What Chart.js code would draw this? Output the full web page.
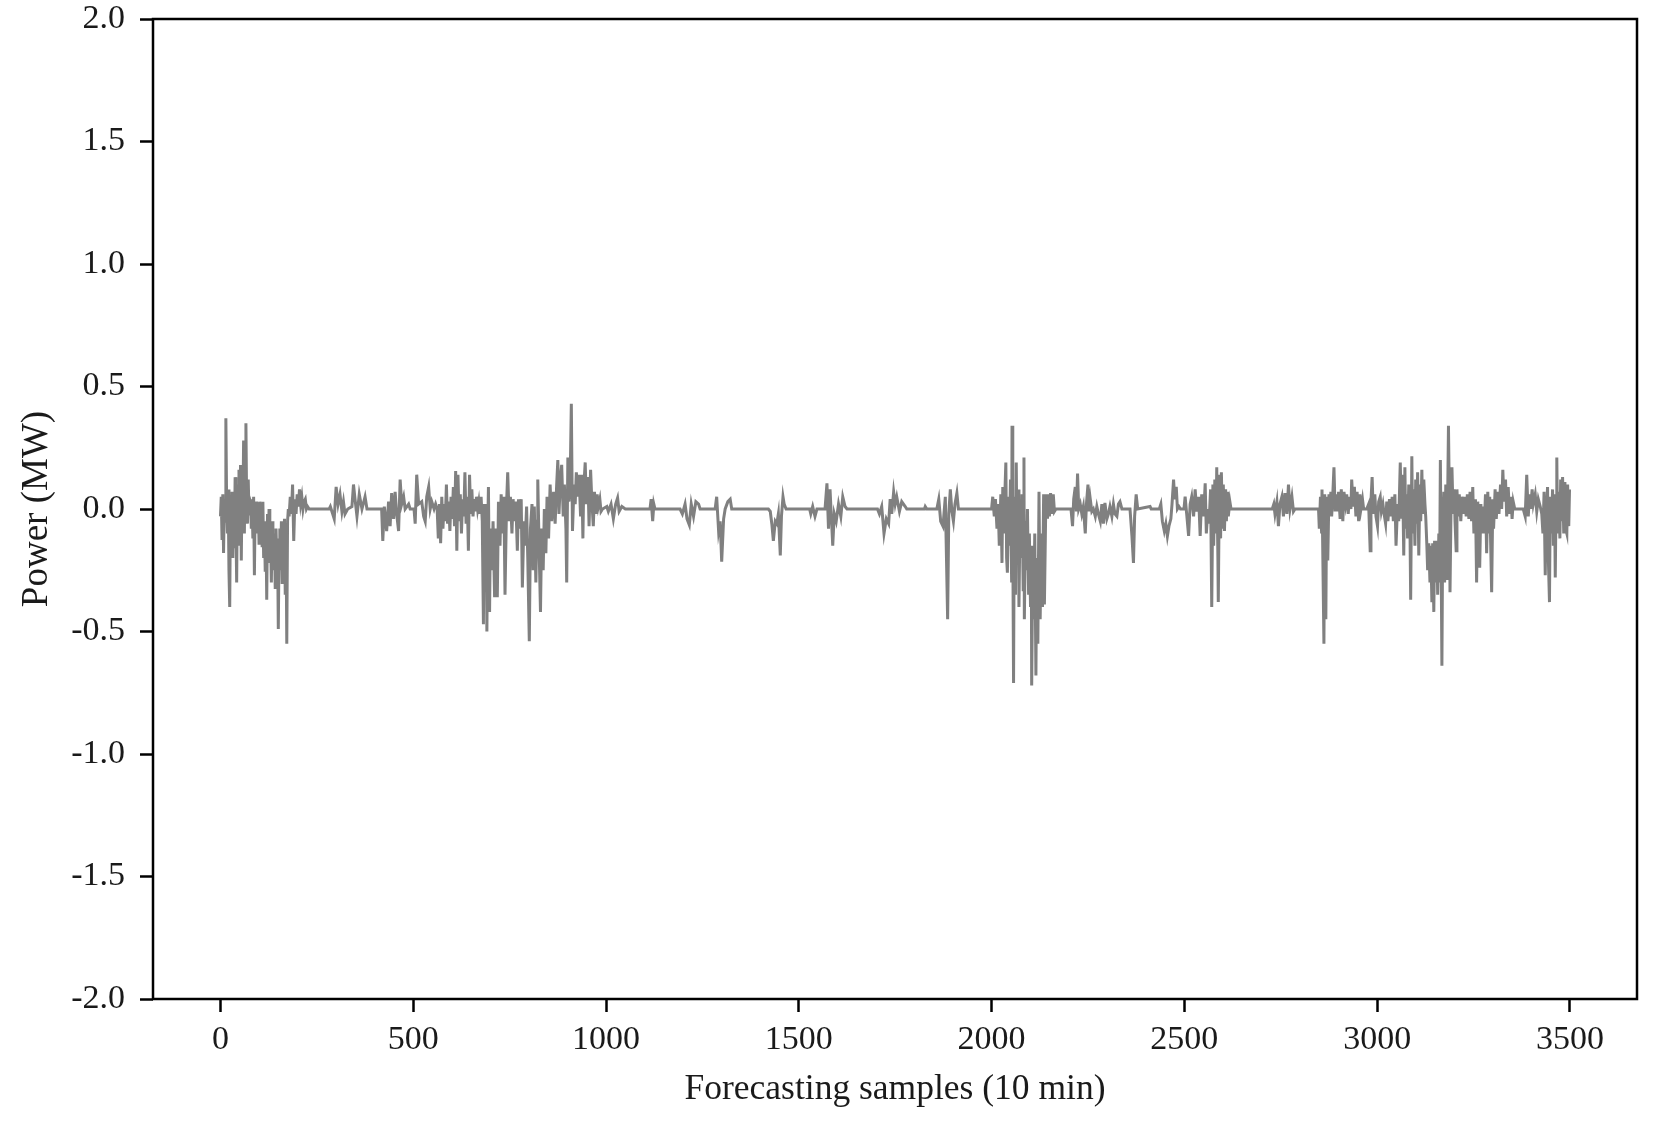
<!DOCTYPE html>
<html>
<head>
<meta charset="utf-8">
<script src="https://cdn.jsdelivr.net/npm/chart.js@4/dist/chart.umd.min.js"></script>
<style>
  html, body { margin: 0; padding: 0; background: #ffffff; }
  #wrap { width: 1653px; height: 1126px; }
  canvas { display: block; }
</style>
</head>
<body>
<div id="wrap"><canvas id="chart" width="1653" height="1126" style="width:1653px;height:1126px"></canvas></div>
<script>
// ---- data ----
const xTickValues = [0, 500, 1000, 1500, 2000, 2500, 3000, 3500];
const yTickValues = [-2.0, -1.5, -1.0, -0.5, 0.0, 0.5, 1.0, 1.5, 2.0];
const xAxisTitle = 'Forecasting samples (10 min)';
const yAxisTitle = 'Power (MW)';
const xRange = [-175, 3674];
const yRange = [-2.0, 2.0];

// [forecasting sample, power error (MW)]
const residualPoints = [
  [0,-0.03],[2,0.05],[4,-0.12],[6,0.06],[8,-0.18],[10,0.04],[12,-0.05],[14,0.37],[16,0.02],[18,-0.10],
  [20,0.08],[22,-0.25],[24,-0.40],[26,0.05],[28,-0.12],[30,0.07],[32,-0.20],[34,0.06],[36,-0.16],[38,0.13],
  [40,-0.05],[42,-0.30],[44,0.10],[46,-0.08],[48,0.16],[50,-0.15],[52,0.18],[54,-0.21],[56,0.10],[58,-0.05],
  [60,0.28],[62,-0.10],[64,0.20],[66,0.35],[68,0.00],[70,-0.06],[72,0.12],[74,-0.02],[76,0.04],
  [78,0.03],[80,-0.08],[82,0.04],[84,-0.12],[86,0.05],[88,-0.27],[90,0.02],[92,-0.10],[94,0.03],[96,-0.05],
  [98,0.02],[100,-0.14],[102,0.03],[104,-0.06],[106,0.02],[108,-0.15],[110,0.03],[112,-0.20],[114,-0.05],[116,-0.25],
  [118,-0.08],[120,-0.37],[122,-0.02],[124,-0.15],[126,0.00],[128,-0.22],[130,-0.10],[132,-0.30],[134,-0.05],[136,-0.18],
  [138,-0.25],[140,-0.10],[142,-0.32],[144,-0.08],[146,-0.20],[148,-0.12],[150,-0.49],[152,-0.15],[154,-0.08],[156,-0.25],
  [158,-0.05],[160,-0.30],[162,-0.12],[164,-0.20],[166,-0.04],[168,-0.35],[170,-0.10],[172,-0.55],[174,-0.05],[176,0.00],
  [178,-0.03],[181,0.05],[184,-0.02],[187,0.10],[190,-0.13],[193,0.04],[196,-0.02],[199,0.06],[202,0.01],[205,0.08],
  [208,0.02],[211,0.05],[214,0.00],[217,0.03],[220,0.04],[223,0.00],[226,0.01],[230,0.00],[282,0.00],
  [285,0.01],[295,-0.04],[300,0.09],[305,0.02],[310,0.06],[315,-0.01],[319,0.03],[323,-0.02],[330,0.00],[341,0.01],
  [345,0.10],[349,0.04],[354,-0.03],[360,0.06],[367,0.00],[375,0.05],[380,0.00],[418,0.00],
  [421,-0.13],[425,0.01],[431,-0.09],[436,0.03],[440,-0.07],[444,0.065],[449,-0.04],[453,0.07],[457,-0.02],[462,-0.09],
  [466,0.12],[470,0.02],[475,0.05],[479,0.00],[488,0.02],[492,0.00],[502,0.00],[505,-0.06],[509,0.14],[514,0.02],
  [522,0.03],[527,-0.03],[531,-0.05],[535,0.05],[540,0.09],[544,0.00],[548,0.03],[554,0.00],[558,0.02],
  [562,0.00],[565,-0.12],[568,0.02],[571,-0.14],[574,0.05],[577,-0.08],[580,0.02],[583,-0.05],[586,0.10],[589,-0.06],
  [592,0.03],[595,-0.09],[598,0.05],[601,-0.04],[604,0.09],[607,-0.07],[610,0.155],[613,-0.17],[616,0.14],[619,-0.05],
  [622,0.06],[625,-0.10],[628,0.04],[631,-0.03],[634,0.15],[637,-0.06],[640,0.05],[643,-0.17],[646,0.14],[649,-0.02],
  [652,0.08],[655,-0.03],[658,0.04],[661,-0.01],[664,0.05],[667,0.00],[670,0.03],[673,-0.02],[676,0.05],[679,-0.05],
  [682,-0.47],[684,0.02],
  [687,-0.30],[689,0.02],[691,-0.50],[693,-0.10],[695,0.09],[698,-0.42],[700,-0.08],[704,-0.25],[707,-0.05],[711,-0.36],
  [714,-0.08],[718,-0.36],[721,0.03],[725,-0.15],[728,0.06],[732,-0.10],[735,0.05],[738,-0.35],[742,0.02],[745,0.15],
  [749,-0.05],[752,0.05],[756,-0.10],[759,0.04],[763,-0.05],[766,0.03],[770,-0.17],[773,0.04],[776,-0.08],[780,0.04],
  [783,-0.32],[787,-0.05],[790,-0.15],[794,0.01],[797,-0.20],[801,-0.54],[804,-0.08],[808,0.02],[811,-0.25],[814,0.01],
  [818,-0.30],[821,-0.05],[823,0.12],[827,-0.20],[830,-0.42],[833,-0.08],[837,-0.25],[840,0.00],[844,-0.18],[847,0.05],
  [851,-0.12],[855,0.10],[859,-0.05],[864,0.07],[868,-0.06],[872,0.10],[875,0.20],[878,-0.02],[882,0.13],[885,0.18],
  [889,-0.03],[892,0.10],[896,-0.08],[898,-0.30],[901,0.21],[904,0.03],[907,0.12],[910,0.43],[913,-0.09],[917,0.10],
  [920,0.02],[923,0.15],[927,0.05],[930,0.14],[934,-0.03],[937,0.14],[940,-0.12],[942,0.08],[946,0.19],[949,0.02],
  [953,0.13],[956,-0.07],[960,0.16],[963,0.04],[967,-0.07],[970,0.07],[974,-0.02],[977,0.06],[980,0.01],[984,0.04],
  [987,-0.01],[991,0.00],
  [1002,0.01],[1006,-0.01],[1013,0.02],[1019,-0.04],[1025,0.02],[1030,0.045],[1034,-0.01],[1041,0.01],[1050,0.00],
  [1114,0.00],[1117,0.04],[1121,-0.05],[1124,0.02],[1127,0.00],
  [1192,0.00],[1198,-0.02],[1205,0.02],[1210,-0.04],[1216,-0.065],[1221,0.02],[1227,-0.03],[1233,0.03],[1240,0.02],[1244,0.00],
  [1283,0.00],[1287,0.05],[1292,-0.09],[1296,-0.05],[1300,-0.215],[1305,-0.04],[1309,0.00],[1316,0.03],[1322,0.04],[1326,0.00],
  [1421,0.00],[1426,-0.01],[1430,-0.06],[1434,-0.13],[1439,-0.05],[1443,-0.06],[1447,-0.02],[1452,-0.19],[1455,-0.03],[1459,0.05],
  [1462,0.02],[1467,0.00],[1528,0.00],[1531,-0.02],[1536,0.01],[1542,-0.03],[1547,0.00],
  [1568,0.00],[1573,0.105],[1577,-0.08],[1581,0.08],[1585,-0.05],[1588,-0.15],[1592,-0.02],[1597,-0.05],[1603,0.02],[1609,-0.03],
  [1614,0.05],[1620,0.01],[1625,0.00],
  [1704,0.00],[1709,-0.02],[1715,0.01],[1721,-0.10],[1727,-0.04],[1733,-0.06],[1737,0.04],[1741,-0.02],[1746,0.07],[1750,0.02],
  [1754,0.05],[1761,-0.01],[1767,0.03],[1776,0.01],[1780,0.00],[1826,0.00],[1828,0.01],[1832,0.00],
  [1858,0.00],[1863,0.04],[1868,-0.05],[1874,-0.07],[1880,0.05],[1886,-0.45],[1889,-0.02],[1893,0.08],[1897,-0.01],[1901,-0.05],
  [1905,0.02],[1910,0.065],[1914,0.00],[1918,0.00],[2000,0.00],
  [2003,0.05],[2007,-0.03],[2010,0.04],[2014,-0.08],[2017,0.02],[2020,-0.15],[2024,0.06],[2027,-0.22],[2029,0.09],[2032,-0.10],
  [2034,0.04],[2037,0.19],[2039,-0.20],[2041,-0.26],[2044,0.05],[2046,-0.15],[2049,0.12],[2052,-0.30],[2053,0.34],[2055,-0.12],
  [2057,-0.71],[2059,0.05],[2062,-0.35],[2064,0.19],[2066,-0.18],[2069,0.08],[2071,-0.40],[2074,0.00],[2077,-0.20],[2079,0.06],
  [2082,-0.33],[2084,0.21],[2085,-0.45],[2088,-0.05],[2090,-0.25],[2093,0.00],[2096,-0.35],[2098,-0.10],[2101,-0.40],[2103,-0.15],
  [2104,-0.72],[2107,-0.18],[2109,-0.45],[2112,-0.10],[2115,-0.68],[2117,-0.20],[2120,-0.55],[2123,0.07],[2126,-0.45],[2129,-0.10],
  [2132,-0.40],[2135,0.06],[2137,-0.39],[2140,-0.05],[2142,0.06],[2145,-0.04],[2148,0.06],[2150,-0.03],[2153,0.065],[2156,-0.02],
  [2160,0.06],[2163,-0.01],[2167,0.00],
  [2206,0.00],[2210,-0.07],[2213,0.04],[2217,0.09],[2220,-0.01],[2223,0.145],[2226,0.00],[2230,0.02],[2234,-0.02],[2238,0.01],
  [2243,-0.10],[2246,0.02],[2250,0.10],[2253,-0.01],[2256,0.04],[2260,-0.01],[2264,0.00],[2269,-0.03],[2273,0.01],[2277,-0.02],
  [2282,-0.05],[2286,0.02],[2290,-0.06],[2294,0.025],[2299,-0.04],[2303,-0.02],[2307,0.01],[2312,-0.03],[2316,0.02],[2320,-0.02],
  [2325,-0.03],[2329,0.02],[2333,0.03],[2338,0.00],
  [2359,0.00],[2364,-0.11],[2368,-0.22],[2371,-0.03],[2375,0.06],[2379,0.00],[2411,0.01],[2414,0.00],
  [2435,0.00],[2439,0.02],[2443,-0.05],[2448,-0.09],[2452,-0.06],[2456,-0.11],[2460,-0.07],[2465,-0.04],[2468,0.02],[2472,0.12],
  [2475,0.04],[2479,0.09],[2482,0.00],[2486,0.01],[2490,0.00],
  [2499,0.00],[2502,0.05],[2506,-0.02],[2511,-0.11],[2515,0.02],[2519,0.05],[2524,-0.03],[2528,0.08],[2532,-0.01],[2537,0.05],
  [2541,-0.11],[2545,0.06],[2550,-0.03],[2554,0.105],[2557,-0.10],[2561,0.00],[2564,-0.06],[2568,0.08],[2571,-0.40],[2574,0.10],
  [2576,-0.15],[2579,0.12],[2582,-0.10],[2584,0.17],[2587,-0.20],[2588,-0.38],[2591,0.14],[2594,-0.12],[2596,0.15],[2599,-0.08],
  [2601,0.10],[2604,-0.09],[2607,0.08],[2609,-0.05],[2612,0.07],[2614,-0.03],[2618,0.03],[2621,0.00],
  [2728,0.00],[2732,0.02],[2735,-0.02],[2740,0.03],[2744,-0.07],[2748,0.02],[2753,0.05],[2757,-0.03],[2761,0.065],[2766,-0.02],
  [2770,0.10],[2774,0.00],[2779,0.05],[2783,-0.01],[2787,0.00],[2848,0.00],
  [2850,-0.08],[2853,0.05],[2856,-0.10],[2857,0.08],[2860,-0.30],[2862,-0.55],[2864,0.06],[2867,-0.45],[2869,0.05],[2872,-0.21],
  [2875,0.06],[2877,-0.02],[2880,0.07],[2882,-0.03],[2885,0.06],[2888,0.17],[2891,-0.01],[2894,0.06],[2897,-0.01],[2900,0.07],
  [2904,-0.04],[2907,0.08],[2911,-0.05],[2914,0.07],[2918,0.02],[2921,0.06],[2925,-0.02],[2928,0.05],[2932,0.00],[2934,0.12],
  [2938,0.01],[2941,0.09],[2945,-0.03],[2948,0.07],[2952,-0.05],[2955,0.06],[2958,0.00],[2962,0.04],[2965,0.00],[2973,0.00],
  [2978,0.02],[2982,-0.17],[2984,0.03],[2987,0.13],[2990,-0.02],[2994,0.06],[2997,-0.03],[3001,-0.07],[3004,0.03],[3008,0.05],
  [3011,-0.01],[3015,0.02],[3018,-0.02],[3022,-0.06],[3025,0.03],[3028,-0.05],[3032,0.04],[3035,-0.03],[3039,0.05],[3042,-0.05],
  [3046,0.06],[3049,-0.15],[3053,0.02],[3056,-0.05],[3060,0.19],[3063,-0.04],[3066,0.14],[3069,-0.19],[3072,0.17],[3074,-0.08],
  [3077,0.06],[3079,-0.12],[3082,0.10],[3085,-0.05],[3087,-0.37],[3090,0.215],[3092,-0.10],[3095,0.08],[3098,-0.15],[3100,0.12],
  [3103,-0.06],[3105,0.15],[3108,-0.19],[3111,0.10],[3113,-0.05],[3116,0.16],[3118,-0.02],[3121,0.12],[3124,0.02],[3126,-0.03],
  [3129,-0.15],[3131,-0.25],[3134,-0.14],[3137,-0.30],[3139,-0.15],[3142,-0.38],[3144,-0.14],[3147,-0.42],[3149,-0.13],[3152,-0.30],
  [3155,-0.13],[3157,-0.35],[3160,-0.10],[3162,-0.30],[3164,0.20],[3166,-0.20],[3168,-0.64],[3170,-0.10],[3173,0.07],[3175,-0.30],
  [3178,0.10],[3181,-0.29],[3183,0.05],[3185,0.34],[3188,-0.05],[3189,-0.34],[3192,0.05],[3194,0.17],[3197,-0.02],[3200,0.08],
  [3202,-0.05],[3205,-0.17],[3207,0.08],[3210,-0.03],[3213,0.06],[3217,-0.05],[3220,0.05],[3224,-0.02],[3227,0.05],[3231,-0.03],
  [3234,0.06],[3238,-0.04],[3241,0.07],[3245,-0.05],[3248,0.09],[3251,-0.10],[3255,0.04],[3258,-0.30],[3261,0.03],[3264,-0.15],
  [3266,-0.24],[3269,0.02],[3271,-0.10],[3274,0.01],[3277,-0.10],[3281,0.06],[3284,-0.18],[3287,0.07],[3290,-0.10],[3292,0.05],
  [3295,-0.18],[3297,-0.34],[3300,0.04],[3302,-0.08],[3306,0.08],[3309,-0.04],[3313,0.07],[3316,-0.02],[3320,0.10],[3323,0.00],
  [3326,0.16],[3329,0.03],[3333,0.12],[3336,-0.03],[3340,0.09],[3343,-0.02],[3347,0.05],[3350,-0.04],[3353,0.03],[3357,0.00],
  [3379,0.00],[3384,-0.03],[3388,0.14],[3392,-0.03],[3395,0.06],[3398,0.00],[3402,0.08],[3405,0.02],[3410,0.06],[3414,-0.01],
  [3418,0.04],[3423,0.01],[3427,-0.02],[3430,-0.10],[3433,0.07],[3436,-0.27],[3438,-0.05],[3442,0.09],[3444,-0.20],[3447,-0.38],
  [3449,0.05],[3452,-0.10],[3455,0.08],[3457,-0.15],[3460,0.06],[3462,-0.28],[3464,0.02],[3466,0.21],[3468,-0.10],[3471,0.07],
  [3474,-0.12],[3476,0.12],[3479,-0.05],[3481,0.13],[3484,-0.10],[3487,0.11],[3489,-0.08],[3492,-0.10],[3494,0.10],[3497,-0.07],
  [3499,0.08]
];

// ---- styling ----
const serif = "'Liberation Serif', 'Times New Roman', 'DejaVu Serif', serif";
const axisColor = '#000000';
const textColor = '#1a1a1a';

const frameBox = {
  id: 'frameBox',
  afterDatasetsDraw(chart) {
    const { ctx, chartArea: a } = chart;
    ctx.save();
    ctx.strokeStyle = axisColor;
    ctx.lineWidth = 2.5;
    ctx.strokeRect(a.left, a.top, a.right - a.left, a.bottom - a.top);
    ctx.restore();
  }
};

new Chart(document.getElementById('chart'), {
  type: 'line',
  data: {
    datasets: [{
      data: residualPoints.map(p => ({ x: p[0], y: p[1] })),
      borderColor: '#808080',
      borderWidth: 3,
      pointRadius: 0,
      tension: 0,
      fill: false
    }]
  },
  options: {
    responsive: false,
    animation: false,
    layout: { padding: { top: 19, right: 16, left: 0, bottom: 0 } },
    plugins: { legend: { display: false }, tooltip: { enabled: false } },
    events: [],
    scales: {
      x: {
        type: 'linear',
        min: xRange[0],
        max: xRange[1],
        afterBuildTicks: s => { s.ticks = xTickValues.map(v => ({ value: v })); },
        afterFit: s => { s.height = 127; s.paddingLeft = 0; s.paddingRight = 0; },
        grid: { display: true, drawOnChartArea: false, drawTicks: true, tickLength: 13, tickWidth: 2.5, tickColor: axisColor },
        border: { display: false },
        ticks: { color: textColor, font: { family: serif, size: 34 }, padding: 8, maxRotation: 0, callback: v => String(v) },
        title: { display: true, text: xAxisTitle, color: textColor, font: { family: serif, size: 35.5 }, padding: { top: 0, bottom: 15 } }
      },
      y: {
        type: 'linear',
        min: yRange[0],
        max: yRange[1],
        afterBuildTicks: s => { s.ticks = yTickValues.map(v => ({ value: v })); },
        afterFit: s => { s.width = 153; s.paddingTop = 0; s.paddingBottom = 0; },
        grid: { display: true, drawOnChartArea: false, drawTicks: true, tickLength: 13, tickWidth: 2.5, tickColor: axisColor },
        border: { display: false },
        ticks: { color: textColor, font: { family: serif, size: 34 }, padding: 15, callback: v => Number(v).toFixed(1) },
        title: { display: true, text: yAxisTitle, color: textColor, font: { family: serif, size: 37 }, padding: { top: 15, bottom: 0 } }
      }
    }
  },
  plugins: [frameBox]
});
</script>
</body>
</html>
